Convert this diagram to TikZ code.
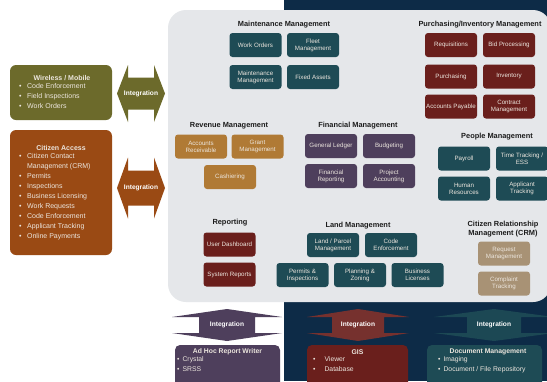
\documentclass[tikz,border=0pt]{standalone}
\usepackage{fontspec}
\setmainfont{Liberation Sans}
\definecolor{panelgray}{HTML}{E5E7EA}
\definecolor{navy}{HTML}{0D2B47}
\definecolor{tealbox}{HTML}{1E4B55}
\definecolor{maroonbox}{HTML}{6A1F1C}
\definecolor{goldbox}{HTML}{B07A35}
\definecolor{purplebox}{HTML}{4E3F5C}
\definecolor{tanbox}{HTML}{A89275}
\definecolor{olivebox}{HTML}{6C6A2B}
\definecolor{rustbox}{HTML}{9A4A14}
\definecolor{boxtext}{HTML}{ECE6DE}
\definecolor{titletext}{HTML}{1C1C1C}
\begin{document}
\begin{tikzpicture}[x=1pt,y=-1pt,
  every node/.style={inner sep=0pt},
  modbox/.style={rounded corners=3pt, minimum width=52pt, minimum height=24pt,
    align=center, text=boxtext, font=\fontsize{6.2}{7.2}\selectfont},
  teal/.style={modbox, fill=tealbox},
  maroon/.style={modbox, fill=maroonbox},
  gold/.style={modbox, fill=goldbox},
  purple/.style={modbox, fill=purplebox},
  tan/.style={modbox, fill=tanbox},
  grouptitle/.style={font=\bfseries\fontsize{7.4}{8.8}\selectfont, text=titletext, align=center},
  inttext/.style={font=\bfseries\fontsize{6.6}{8}\selectfont, text=white},
  sidetitle/.style={font=\bfseries\fontsize{7}{8}\selectfont, text=boxtext},
  sidelist/.style={font=\fontsize{7}{10}\selectfont, text=boxtext, align=left, anchor=north west},
  bottitle/.style={font=\bfseries\fontsize{6.8}{8}\selectfont, text=boxtext},
  botlist/.style={font=\fontsize{6.8}{10}\selectfont, text=boxtext, align=left, anchor=north west}
]
\useasboundingbox (0,0) rectangle (547,381);
\fill[white] (0,0) rectangle (547,381);
% dark backdrop on the right
\fill[navy] (284,0) rectangle (547,381);
% central application panel
\fill[panelgray, rounded corners=18pt] (168,10) rectangle (551,302);

% ---------- Maintenance Management ----------
\node[grouptitle] (maint) at (284,25) {Maintenance Management};
\node[teal] (wo)  at (255.5,45) {Work Orders};
\node[teal] (fleet) at (313,45) {Fleet\\Management};
\node[teal] (mm)  at (255.5,77) {Maintenance\\Management};
\node[teal] (fa)  at (313,77) {Fixed Assets};

% ---------- Purchasing / Inventory ----------
\node[grouptitle] (purch) at (480,25) {Purchasing/Inventory Management};
\node[maroon] (req) at (451,45) {Requisitions};
\node[maroon] (bid) at (509,45) {Bid Processing};
\node[maroon] (pur) at (451,76.5) {Purchasing};
\node[maroon] (inv) at (509,76.5) {Inventory};
\node[maroon] (ap)  at (451,106.5) {Accounts Payable};
\node[maroon] (cm)  at (509,106.5) {Contract\\Management};

% ---------- Revenue Management ----------
\node[grouptitle] (rev) at (229,126) {Revenue Management};
\node[gold] (ar)   at (201,146.5) {Accounts\\Receivable};
\node[gold] (gm)   at (257.5,146.5) {Grant\\Management};
\node[gold] (cash) at (230,177) {Cashiering};

% ---------- Financial Management ----------
\node[grouptitle] (fin) at (358,126) {Financial Management};
\node[purple] (gl)  at (331,146) {General Ledger};
\node[purple] (bud) at (389,146) {Budgeting};
\node[purple] (fr)  at (331,176) {Financial\\Reporting};
\node[purple] (pa)  at (389,176) {Project\\Accounting};

% ---------- People Management ----------
\node[grouptitle] (people) at (497,137) {People Management};
\node[teal] (pay) at (464,158.5) {Payroll};
\node[teal] (tt)  at (522,158.5) {Time Tracking /\\ESS};
\node[teal] (hr)  at (464,188.5) {Human\\Resources};
\node[teal] (at)  at (522,188.5) {Applicant\\Tracking};

% ---------- Reporting ----------
\node[grouptitle] (rep) at (230,223) {Reporting};
\node[maroon] (ud) at (229.5,244.5) {User Dashboard};
\node[maroon] (sr) at (229.5,274.5) {System Reports};

% ---------- Land Management ----------
\node[grouptitle] (land) at (358,226) {Land Management};
\node[teal] (lp)  at (333,245) {Land / Parcel\\Management};
\node[teal] (ce)  at (391,245) {Code\\Enforcement};
\node[teal] (pi)  at (302.5,275) {Permits \&\\Inspections};
\node[teal] (pz)  at (360,275) {Planning \&\\Zoning};
\node[teal] (bl)  at (417.5,275) {Business\\Licenses};

% ---------- Citizen Relationship Management ----------
\node[grouptitle] (crm) at (503,229) {Citizen Relationship\\Management (CRM)};
\node[tan] (rm) at (504,253.5) {Request\\Management};
\node[tan] (ct) at (504,283.5) {Complaint\\Tracking};

% ---------- Wireless / Mobile ----------
\fill[olivebox, rounded corners=6pt] (10,65) rectangle (112,120);
\node[sidetitle] (wm) at (62,78) {Wireless / Mobile};
\node[sidelist] (wml) at (19,83.5) {\textbullet\hspace{5.5pt}Code Enforcement\\
  \textbullet\hspace{5.5pt}Field Inspections\\
  \textbullet\hspace{5.5pt}Work Orders};

% ---------- Citizen Access ----------
\fill[rustbox, rounded corners=6pt] (10,130) rectangle (112,255);
\node[sidetitle] (ca) at (61,148) {Citizen Access};
\node[sidelist] (cal) at (19,153.5) {\textbullet\hspace{5.5pt}Citizen Contact\\
  \phantom{\textbullet}\hspace{5.5pt}Management (CRM)\\
  \textbullet\hspace{5.5pt}Permits\\
  \textbullet\hspace{5.5pt}Inspections\\
  \textbullet\hspace{5.5pt}Business Licensing\\
  \textbullet\hspace{5.5pt}Work Requests\\
  \textbullet\hspace{5.5pt}Code Enforcement\\
  \textbullet\hspace{5.5pt}Applicant Tracking\\
  \textbullet\hspace{5.5pt}Online Payments};

% ---------- side integration arrows (left/right) ----------
\begin{scope}[shift={(141,93.5)}]
  \fill[olivebox] (-24,0) -- (-13,-28.5) -- (-13,-16) -- (13,-16) -- (13,-28.5)
    -- (24,0) -- (13,28.5) -- (13,16) -- (-13,16) -- (-13,28.5) -- cycle;
  \node[inttext] (intw) at (0,0) {Integration};
\end{scope}
\begin{scope}[shift={(141,188)}]
  \fill[rustbox] (-24,0) -- (-13,-30.5) -- (-13,-17.5) -- (13,-17.5) -- (13,-30.5)
    -- (24,0) -- (13,30.5) -- (13,17.5) -- (-13,17.5) -- (-13,30.5) -- cycle;
  \node[inttext] (intc) at (0,0) {Integration};
\end{scope}

% ---------- bottom integration arrows (up/down) ----------
\begin{scope}[shift={(227,325)}]
  \fill[purplebox] (0,-16) -- (55,-8) -- (28,-8) -- (28,8) -- (55,8) -- (0,16)
    -- (-55,8) -- (-28,8) -- (-28,-8) -- (-55,-8) -- cycle;
  \node[inttext] (int1) at (0,0) {Integration};
\end{scope}
\begin{scope}[shift={(358,325)}]
  \fill[maroonbox!92!white] (0,-16) -- (51,-8) -- (26,-8) -- (26,8) -- (51,8) -- (0,16)
    -- (-51,8) -- (-26,8) -- (-26,-8) -- (-51,-8) -- cycle;
  \node[inttext] (int2) at (0,0) {Integration};
\end{scope}
\begin{scope}[shift={(494,325)}]
  \fill[tealbox!90!navy] (0,-16) -- (60,-8) -- (27,-8) -- (27,8) -- (60,8) -- (0,16)
    -- (-60,8) -- (-27,8) -- (-27,-8) -- (-60,-8) -- cycle;
  \node[inttext] (int3) at (0,0) {Integration};
\end{scope}

% ---------- bottom systems ----------
\fill[purplebox, rounded corners=5pt] (175,345) -- (280,345) -- (280,390) -- (175,390) -- cycle;
\node[bottitle] (adhoc) at (227.5,352) {Ad Hoc Report Writer};
\node[botlist] (adhocl) at (177,356.5) {\textbullet\hspace{3pt}Crystal\\ \textbullet\hspace{3pt}SRSS};

\fill[maroonbox, rounded corners=5pt] (307,345) -- (408,345) -- (408,390) -- (307,390) -- cycle;
\node[bottitle] (gis) at (357.5,352) {GIS};
\node[botlist] (gisl) at (313,356.5) {\textbullet\hspace{9pt}Viewer\\ \textbullet\hspace{9pt}Database};

\fill[tealbox, rounded corners=5pt] (427,345) -- (542,345) -- (542,390) -- (427,390) -- cycle;
\node[bottitle] (doc) at (488,352) {Document Management};
\node[botlist] (docl) at (438,356.5) {\textbullet\hspace{3pt}Imaging\\ \textbullet\hspace{3pt}Document / File Repository};
\end{tikzpicture}
\end{document}
